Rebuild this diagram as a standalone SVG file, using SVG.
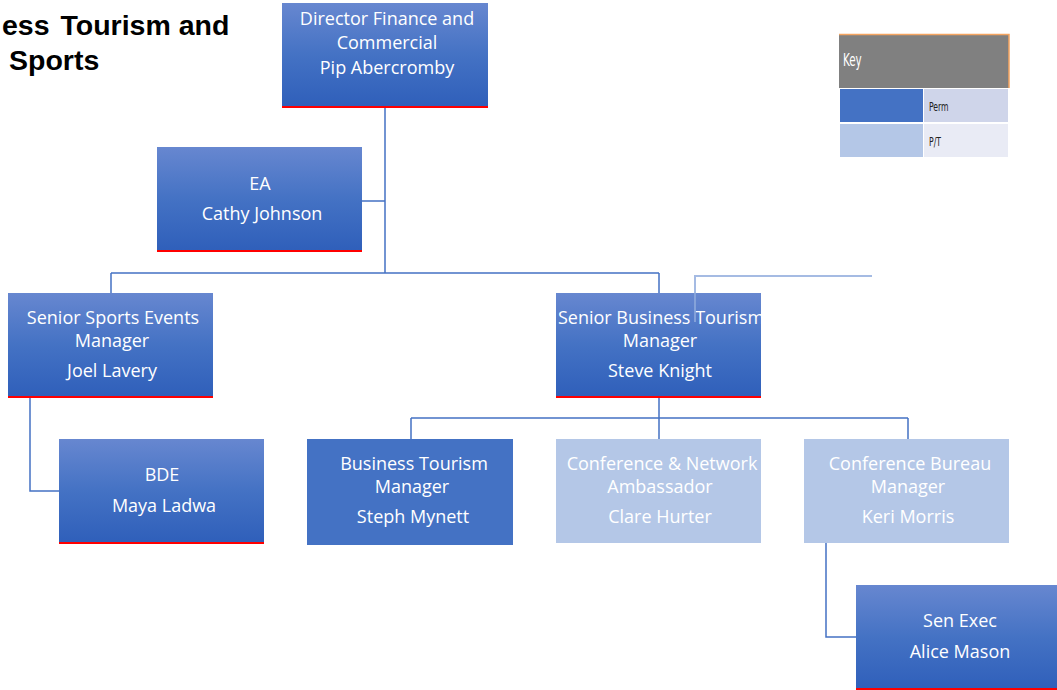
<svg xmlns="http://www.w3.org/2000/svg" width="1057" height="690" viewBox="0 0 1057 690">
<defs>
<linearGradient id="g" x1="0" y1="0" x2="0" y2="1">
<stop offset="0" stop-color="#6787d0"/>
<stop offset="0.5" stop-color="#4472c4"/>
<stop offset="1" stop-color="#2f5fba"/>
</linearGradient>
<style>
.bx{fill:url(#g)}
.perm{fill:#4472c4}
.pt{fill:#b4c7e7}
.red{stroke:#ff0000;stroke-width:2}
.t{font-family:"Open Sans","Noto Sans",sans-serif;font-size:18px;fill:#ffffff;text-anchor:middle}
.c{fill:none;stroke:#4472c4;stroke-width:1.5}
.c2{fill:none;stroke:#8faadc;stroke-width:2;opacity:0.8}
.title{font-family:"Liberation Sans",Arial,sans-serif;font-weight:bold;font-size:28.5px;fill:#000}
.k{font-family:"DejaVu Sans Condensed","DejaVu Sans",sans-serif}
</style>
</defs>
<rect width="1057" height="690" fill="#ffffff"/>
<g id="title">
<text class="title" x="2" y="35">ess <tspan dx="3">Tourism and</tspan></text>
<text class="title" x="9" y="70">Sports</text>
</g>
<g id="key">
<rect x="839" y="34" width="170" height="54" fill="#808080"/>
<path d="M839 34.5H1009V88" fill="none" stroke="#f4a460" stroke-width="1.5"/>
<rect x="840" y="89" width="83" height="33" class="perm"/>
<rect x="924" y="89" width="84" height="33" fill="#cfd5ea"/>
<rect x="840" y="124" width="83" height="33" class="pt"/>
<rect x="924" y="124" width="84" height="33" fill="#e9ebf5"/>
<text x="0" y="0" class="k" font-size="17" fill="#ffffff" transform="translate(843,66) scale(0.68,1)">Key</text>
<text x="0" y="0" class="k" font-size="13" fill="#222222" transform="translate(929,111) scale(0.66,1)">Perm</text>
<text x="0" y="0" class="k" font-size="13" fill="#222222" transform="translate(929,146) scale(0.66,1)">P/T</text>
</g>
<g id="connectors">
<path class="c" d="M385 107V273M362 201H385M111 273H659M111 273V293M659 273V293"/>
<path class="c" d="M30 398V491H59"/>
<path class="c" d="M659 398V418M411 418H908M411 418V439M659 418V439M908 418V439"/>
<path class="c" d="M826 543V637H856"/>
</g>
<g id="director">
<rect x="282" y="3" width="206" height="104" class="bx"/>
<line x1="282" y1="107" x2="488" y2="107" class="red"/>
<text class="t" x="387" y="25">Director Finance and</text>
<text class="t" x="387" y="49">Commercial</text>
<text class="t" x="387" y="74">Pip Abercromby</text>
</g>
<g id="ea">
<rect x="157" y="147" width="205" height="104" class="bx"/>
<line x1="157" y1="251" x2="362" y2="251" class="red"/>
<text class="t" x="260" y="190">EA</text>
<text class="t" x="262" y="220">Cathy Johnson</text>
</g>
<g id="sports">
<rect x="8" y="293" width="205" height="104" class="bx"/>
<line x1="8" y1="397" x2="213" y2="397" class="red"/>
<text class="t" x="113" y="324">Senior Sports Events</text>
<text class="t" x="112" y="347">Manager</text>
<text class="t" x="112" y="377">Joel Lavery</text>
</g>
<g id="senbiz">
<clipPath id="cl"><rect x="556" y="293" width="205" height="106"/></clipPath>
<rect x="556" y="293" width="205" height="104" class="bx"/>
<line x1="556" y1="397" x2="761" y2="397" class="red"/>
<text class="t" x="661" y="324" clip-path="url(#cl)">Senior Business Tourism</text>
<text class="t" x="660" y="347">Manager</text>
<text class="t" x="660" y="377">Steve Knight</text>
</g>
<g id="stray">
<path class="c2" d="M695 322V276H872"/>
</g>
<g id="bde">
<rect x="59" y="439" width="205" height="104" class="bx"/>
<line x1="59" y1="543" x2="264" y2="543" class="red"/>
<text class="t" x="162" y="481">BDE</text>
<text class="t" x="164" y="512">Maya Ladwa</text>
</g>
<g id="btm">
<rect x="307" y="439" width="206" height="106" class="perm"/>
<text class="t" x="414" y="470">Business Tourism</text>
<text class="t" x="412" y="493">Manager</text>
<text class="t" x="413" y="523">Steph Mynett</text>
</g>
<g id="cna">
<rect x="556" y="439" width="205" height="104" class="pt"/>
<text class="t" x="662" y="470">Conference &amp; Network</text>
<text class="t" x="660" y="493">Ambassador</text>
<text class="t" x="660" y="523">Clare Hurter</text>
</g>
<g id="cbm">
<rect x="804" y="439" width="205" height="104" class="pt"/>
<text class="t" x="910" y="470">Conference Bureau</text>
<text class="t" x="908" y="493">Manager</text>
<text class="t" x="908" y="523">Keri Morris</text>
</g>
<g id="senexec">
<rect x="856" y="585" width="201" height="105" class="bx"/>
<line x1="856" y1="689" x2="1057" y2="689" class="red"/>
<text class="t" x="960" y="627">Sen Exec</text>
<text class="t" x="960" y="658">Alice Mason</text>
</g>
</svg>
